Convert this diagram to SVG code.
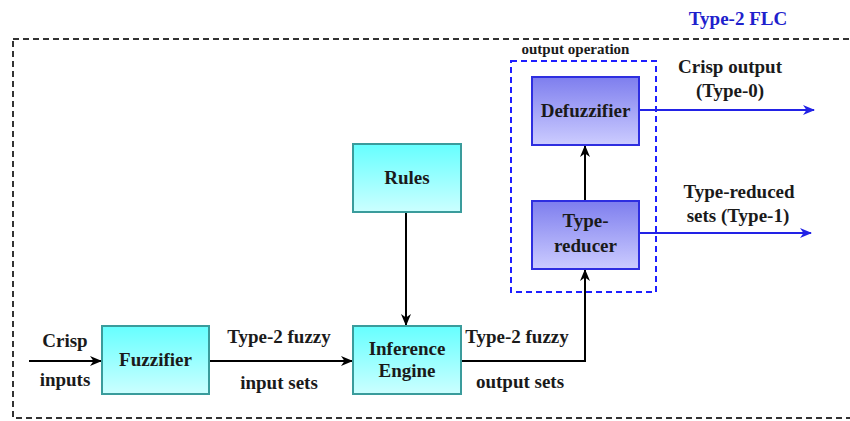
<svg xmlns="http://www.w3.org/2000/svg" width="850" height="421" viewBox="0 0 850 421">
<defs>
<linearGradient id="gc" x1="0" y1="0" x2="0" y2="1"><stop offset="0" stop-color="#66FFFF"/><stop offset="1" stop-color="#CCFFFF"/></linearGradient>
<linearGradient id="gp" x1="0" y1="0" x2="0" y2="1"><stop offset="0" stop-color="#7E7EEE"/><stop offset="1" stop-color="#CCCCFF"/></linearGradient>
<marker id="ab" viewBox="0 0 12 12" refX="11" refY="6" markerWidth="12" markerHeight="12" markerUnits="userSpaceOnUse" orient="auto"><path d="M0,1 L12,6 L0,11 L3.5,6 Z" fill="#000"/></marker>
<marker id="au" viewBox="0 0 12 12" refX="11" refY="6" markerWidth="12" markerHeight="12" markerUnits="userSpaceOnUse" orient="auto"><path d="M0,1 L12,6 L0,11 L3.5,6 Z" fill="#2222E6"/></marker>
<style>
text{font-family:"Liberation Serif","Times New Roman",serif;font-weight:bold;font-size:19px;fill:#1a1a1a;text-anchor:middle}
.cy{fill:url(#gc);stroke:#3A9C9C;stroke-width:2}
.pu{fill:url(#gp);stroke:#2E2EE0;stroke-width:2}
.bk{fill:none;stroke:#000;stroke-width:2;marker-end:url(#ab)}
.bl{fill:none;stroke:#2222E6;stroke-width:2;marker-end:url(#au)}
</style>
</defs>
<rect x="13" y="39" width="860" height="379" fill="none" stroke="#333" stroke-width="2" stroke-dasharray="6 4"/>
<text x="738" y="25" style="fill:#2020CC">Type-2 FLC</text>
<g id="outop">
<rect x="511" y="61" width="145" height="231" fill="none" stroke="#1F1FFF" stroke-width="2" stroke-dasharray="6 4"/>
<text x="575.5" y="54" style="font-size:15px">output operation</text>
</g>
<g id="connectors">
<path class="bk" d="M29,361 H101"/>
<path class="bk" d="M209,361 H352"/>
<path class="bk" d="M406,212 V325"/>
<path class="bk" d="M461,361 H585 V270"/>
<path class="bk" d="M585,201 V146"/>
<path class="bl" d="M639,110 H814"/>
<path class="bl" d="M639,233 H811"/>
</g>
<g id="labels">
<text x="65" y="347">Crisp</text>
<text x="65" y="386">inputs</text>
<text x="279" y="343">Type-2 fuzzy</text>
<text x="279" y="389">input sets</text>
<text x="517" y="343">Type-2 fuzzy</text>
<text x="520" y="388">output sets</text>
<text x="730" y="73">Crisp output</text>
<text x="730" y="97">(Type-0)</text>
<text x="739" y="198">Type-reduced</text>
<text x="738" y="222">sets (Type-1)</text>
</g>
<g id="fuzzifier"><rect class="cy" x="102" y="326" width="107" height="68"/><text x="155.5" y="366">Fuzzifier</text></g>
<g id="inference"><rect class="cy" x="353" y="326" width="108" height="68"/><text x="407" y="355">Inference</text><text x="407" y="377">Engine</text></g>
<g id="rules"><rect class="cy" x="353" y="144" width="108" height="68"/><text x="407" y="184">Rules</text></g>
<g id="defuzzifier"><rect class="pu" x="532" y="77" width="107" height="68"/><text x="585.5" y="117">Defuzzifier</text></g>
<g id="typereducer"><rect class="pu" x="532" y="201" width="107" height="68"/><text x="585.5" y="227">Type-</text><text x="585.5" y="252">reducer</text></g>
</svg>
